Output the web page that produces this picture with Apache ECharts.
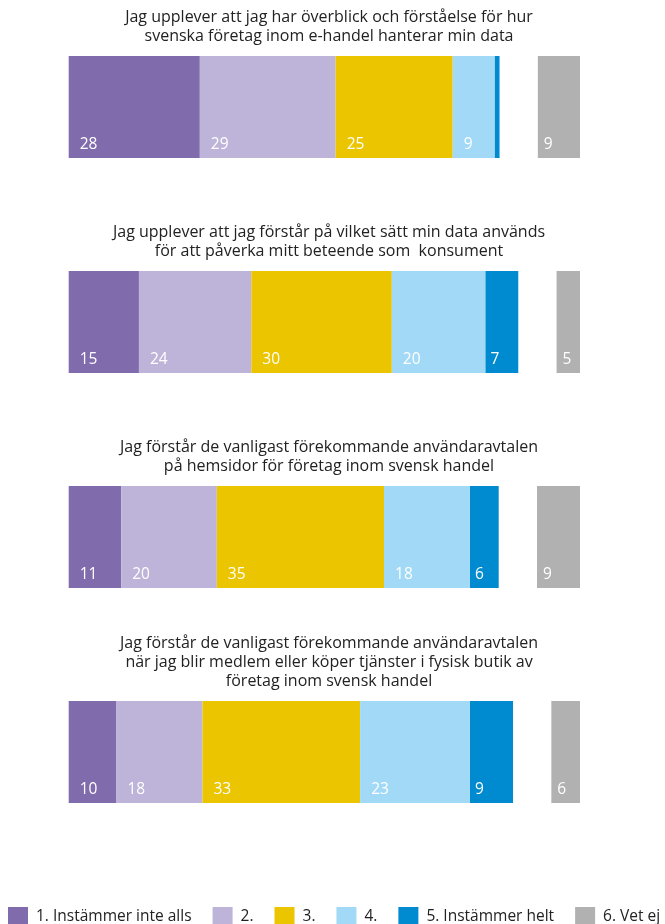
<!DOCTYPE html>
<html>
<head>
<meta charset="utf-8">
<script src="https://cdn.jsdelivr.net/npm/echarts@6/dist/echarts.min.js"></script>
<style>
  html, body { margin: 0; padding: 0; background: #fff; }
  #chart { width: 665px; height: 924px; }
</style>
</head>
<body>
<div id="chart"></div>
<script>
// frågorna, en per stapel
const questions = [
  'Jag upplever att jag har överblick och förståelse för hur\nsvenska företag inom e-handel hanterar min data',
  'Jag upplever att jag förstår på vilket sätt min data används\nför att påverka mitt beteende som  konsument',
  'Jag förstår de vanligast förekommande användaravtalen\npå hemsidor för företag inom svensk handel',
  'Jag förstår de vanligast förekommande användaravtalen\nnär jag blir medlem eller köper tjänster i fysisk butik av\nföretag inom svensk handel'
];
const categories = ['1. Instämmer inte alls', '2.', '3.', '4.', '5. Instämmer helt', '6. Vet ej'];

// procent per fråga
const instammerInteAlls = [28, 15, 11, 10];
const svar2 = [29, 24, 20, 18];
const svar3 = [25, 30, 35, 33];
const svar4 = [9, 20, 18, 23];
const instammerHelt = [1, 7, 6, 9];
const vetEj = [9, 5, 9, 6];

const stacked = [instammerInteAlls, svar2, svar3, svar4, instammerHelt];
const colors = ['#806cad', '#beb4d9', '#ebc500', '#a2d9f6', '#008ad0', '#b1b1b1'];
const FONT = '"Open Sans", sans-serif';

const barTops = [56, 271, 486, 701];
const barH = 102;
const gridLeft = 68.7;
const gridRight = 85;
const gapRatio = 1.081; // luft mellan 5:an och "vet ej"

let grid = [], xAxis = [], yAxis = [], series = [], graphic = [];

questions.forEach((q, g) => {
  let total = vetEj[g];
  stacked.forEach(arr => { total += arr[g]; });
  const max = total * gapRatio;

  grid.push({ left: gridLeft, right: gridRight, top: barTops[g], height: barH });
  xAxis.push({ gridIndex: g, type: 'value', min: 0, max: max, show: false });
  xAxis.push({ gridIndex: g, type: 'value', min: 0, max: max, inverse: true, show: false });
  yAxis.push({ gridIndex: g, type: 'category', data: ['q' + g], show: false });

  stacked.forEach((arr, i) => {
    series.push({
      name: categories[i],
      type: 'bar',
      stack: 'q' + g,
      xAxisIndex: g * 2,
      yAxisIndex: g,
      barWidth: '100%',
      barGap: '-100%',
      itemStyle: { color: colors[i] },
      label: {
        show: true,
        position: 'insideBottomLeft',
        distance: 5,
        offset: [i === 4 ? 0 : 6, 0],
        color: '#fff',
        fontSize: 15.5,
        fontFamily: FONT,
        formatter: '{c}'
      },
      data: [arr[g]]
    });
  });

  // "vet ej" ligger för sig själv längst till höger
  series.push({
    name: categories[5],
    type: 'bar',
    xAxisIndex: g * 2 + 1,
    yAxisIndex: g,
    barWidth: '100%',
    barGap: '-100%',
    itemStyle: { color: colors[5] },
    label: {
      show: true,
      position: 'insideBottomLeft',
      distance: 5,
      offset: [1, 0],
      color: '#fff',
      fontSize: 15.5,
      fontFamily: FONT,
      formatter: '{c}'
    },
    data: [vetEj[g]]
  });

  graphic.push({
    type: 'text',
    x: 329,
    y: barTops[g] - 10.5,
    style: {
      text: q,
      align: 'center',
      verticalAlign: 'bottom',
      fontSize: 16,
      fontFamily: FONT,
      lineHeight: 19,
      fill: '#222'
    }
  });
});

const chart = echarts.init(document.getElementById('chart'));
chart.setOption({
  animation: false,
  color: colors,
  grid: grid,
  xAxis: xAxis,
  yAxis: yAxis,
  graphic: graphic,
  legend: {
    data: categories,
    left: 8,
    top: 907,
    width: 720,
    padding: 0,
    icon: 'rect',
    itemWidth: 20,
    itemHeight: 20,
    itemGap: 21,
    selectedMode: false,
    textStyle: { fontSize: 15.5, color: '#222', fontFamily: FONT, padding: [0, 0, 0, 3] }
  },
  series: series
});
</script>
</body>
</html>
